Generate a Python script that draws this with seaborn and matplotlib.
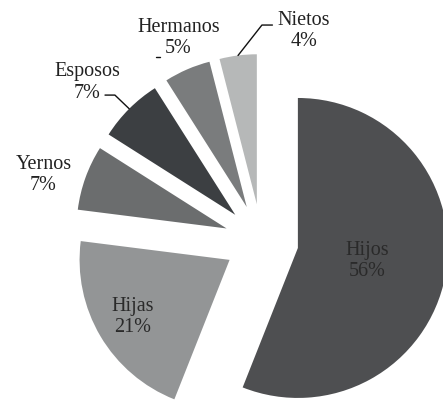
import numpy as np
import matplotlib
matplotlib.use("Agg")
import matplotlib.pyplot as plt
from matplotlib import font_manager
import seaborn as sns

# data
categories = ["Hijos", "Hijas", "Yernos", "Esposos", "Hermanos", "Nietos"]
shares = [56, 21, 7, 7, 5, 4]

# styling
COLORS = ["#4e4f51", "#939596", "#6b6d6e", "#3c3f42", "#7a7c7d", "#b6b8b8"]
EXPLODE = 0.247
# label placement: ("in", fraction of radius from wedge tip) or ("out", x, y)
LABEL_POS = [("in", 0.47), ("in", 0.75),
             ("out", -1.453, 0.44), ("out", -1.16, 1.057),
             ("out", -0.553, 1.353), ("out", 0.283, 1.40)]
# leader lines: label start, elbow (data units); end is the wedge rim
LEADERS = {3: [(-1.043, 0.973), (-0.977, 0.973)],
           5: [(0.073, 1.44), (0.003, 1.44)]}

sns.set_theme(style="white")
serif_file = next((f.fname for f in font_manager.fontManager.ttflist
                   if f.fname.endswith("LiberationSerif-Regular.ttf")), None)
if serif_file:
    FONT = font_manager.FontProperties(fname=serif_file, size=14.5)
else:
    FONT = font_manager.FontProperties(family="serif", size=14.5)

fig = plt.figure(figsize=(4.43, 4.0), dpi=100)
ax = fig.add_axes([0, 0, 1, 1])

wedges, _ = ax.pie(shares, colors=COLORS, startangle=90, counterclock=False,
                   explode=[EXPLODE] * len(shares), radius=1.0,
                   wedgeprops={"linewidth": 0})

for i, (w, name, val) in enumerate(zip(wedges, categories, shares)):
    mid = np.deg2rad((w.theta1 + w.theta2) / 2)
    cx, cy = w.center
    label = f"{name}\n{val}%"
    pos = LABEL_POS[i]
    if pos[0] == "in":
        x, y = cx + pos[1] * np.cos(mid), cy + pos[1] * np.sin(mid)
        ax.text(x, y, label, ha="center", va="center", fontproperties=FONT,
                color="#2a2a2a", linespacing=1.15)
    else:
        ax.text(pos[1], pos[2], label, ha="center", va="center", fontproperties=FONT,
                color="#222222", linespacing=1.15)
    if i in LEADERS:
        rim = (cx + np.cos(mid), cy + np.sin(mid))
        pts = LEADERS[i] + [rim]
        ax.plot([p[0] for p in pts], [p[1] for p in pts], color="#111111", lw=1.0)

# small stub next to Hermanos' value
ax.plot([-0.703, -0.677], [1.227, 1.227], color="#111111", lw=1.0)

ax.set_xlim(-1.743, 1.21)
ax.set_ylim(-1.06, 1.607)
ax.set_aspect("auto")
ax.axis("off")

fig.savefig("out.png", dpi=100)
